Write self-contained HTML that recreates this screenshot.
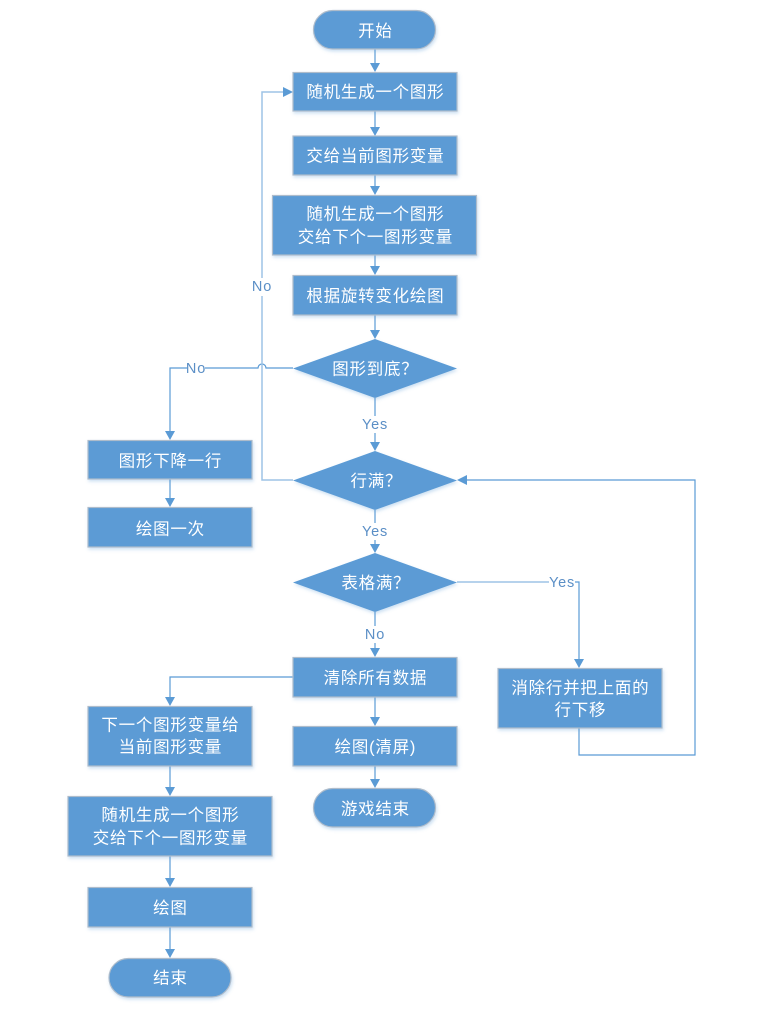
<!DOCTYPE html>
<html><head><meta charset="utf-8">
<style>
html,body{margin:0;padding:0;background:#fff}
svg{display:block}
.n{fill:#5b9bd5;stroke:#aebccb;stroke-width:1.2}
.t{fill:#fff;font-family:"Liberation Sans","Noto Sans CJK SC",sans-serif;font-size:16.5px;letter-spacing:.75px;text-anchor:middle}
.l{fill:#5b8fc6;font-family:"Liberation Sans","Noto Sans CJK SC",sans-serif;font-size:14.500px;text-anchor:middle;letter-spacing:.8px}
.c{fill:none;stroke:#5b9bd5;stroke-width:1.2}
.c2{fill:none;stroke:#9dc3e6;stroke-width:1.5}
.a{fill:#5b9bd5}
</style></head><body>
<svg width="757" height="1021" viewBox="0 0 757 1021" xmlns="http://www.w3.org/2000/svg">
<defs><filter id="s" x="-10%" y="-10%" width="120%" height="130%"><feDropShadow dx="1" dy="2" stdDeviation="1.500" flood-color="#5b9bd5" flood-opacity=".3"/></filter></defs>

<!-- connectors -->
<g class="c">
<path d="M375 49V64M375 111V128M375 175V187M375 255V267M375 315V331"/>
<path d="M375 398V416M375 433V443"/>
<path d="M375 510V523M375 540V545"/>
<path d="M375 612V626M375 643V649"/>
<path d="M375 697V718M375 766V780"/>
<path d="M293 368H266a4 4 0 0 0-8 0H205M187 368H170V432"/>
<path d="M170 479V499M170 766V788M170 856V879M170 927V950"/>
<path d="M293 677H170V698"/>
<path d="M575 582H579V660"/>
<path d="M579 728V755H695V480H466"/>
</g>
<g class="c2">
<path d="M293 480H262V296M262 278V92H284"/>
<path d="M457 582H549"/>
</g>
<g class="a">
<path d="M370 63H380L375 72Z"/>
<path d="M370 127H380L375 136Z"/>
<path d="M370 186H380L375 195Z"/>
<path d="M370 266H380L375 275Z"/>
<path d="M370 330H380L375 339Z"/>
<path d="M370 442H380L375 451Z"/>
<path d="M370 544H380L375 553Z"/>
<path d="M370 648H380L375 657Z"/>
<path d="M370 717H380L375 726Z"/>
<path d="M370 779H380L375 788Z"/>
<path d="M165 431H175L170 440Z"/>
<path d="M165 498H175L170 507Z"/>
<path d="M165 697H175L170 706Z"/>
<path d="M165 787H175L170 796Z"/>
<path d="M165 878H175L170 887Z"/>
<path d="M165 949H175L170 958Z"/>
<path d="M574 659H584L579 668Z"/>
<path d="M283 87V97L293 92Z"/>
<path d="M467 475V485L457 480Z"/>
</g>

<!-- nodes -->
<g filter="url(#s)">
<rect class="n" x="313.500" y="10.500" width="122" height="38.500" rx="19.250"/>
<rect class="n" x="293" y="72.500" width="164" height="38.500"/>
<rect class="n" x="293" y="136" width="164" height="39"/>
<rect class="n" x="272.500" y="195.500" width="204" height="59.500"/>
<rect class="n" x="293" y="275.500" width="164" height="39.500"/>
<path d="M293 368.500L375 339L457 368.500L375 398Z" fill="#5b9bd5"/>
<path d="M293 480.500L375 451L457 480.500L375 510Z" fill="#5b9bd5"/>
<path d="M293 582.500L375 553L457 582.500L375 612Z" fill="#5b9bd5"/>
<rect class="n" x="293" y="657.500" width="164" height="39.500"/>
<rect class="n" x="293" y="726.500" width="164" height="39.500"/>
<rect class="n" x="313.500" y="788.500" width="122" height="38.500" rx="19.250"/>
<rect class="n" x="88" y="440.500" width="164" height="38.500"/>
<rect class="n" x="88" y="507.500" width="164" height="39.500"/>
<rect class="n" x="88" y="706.500" width="164" height="59.500"/>
<rect class="n" x="68" y="796.500" width="204" height="59.500"/>
<rect class="n" x="88" y="887.500" width="164" height="39.500"/>
<rect class="n" x="109" y="958.500" width="122" height="38.500" rx="19.250"/>
<rect class="n" x="498" y="668.500" width="164" height="59.500"/>
</g>

<!-- node text -->
<g class="t" transform="translate(.4,.6)">
<text x="375" y="36">开始</text>
<text x="375" y="97">随机生成一个图形</text>
<text x="375" y="161">交给当前图形变量</text>
<text x="375" y="219">随机生成一个图形</text>
<text x="375" y="242">交给下个一图形变量</text>
<text x="375" y="301">根据旋转变化绘图</text>
<text x="375" y="374">图形到底？</text>
<text x="376" y="486">行满？</text>
<text x="375.500" y="588">表格满？</text>
<text x="375" y="683">清除所有数据</text>
<text x="375" y="752">绘图(清屏)</text>
<text x="375" y="814">游戏结束</text>
<text x="170" y="466">图形下降一行</text>
<text x="170" y="534">绘图一次</text>
<text x="170" y="730">下一个图形变量给</text>
<text x="170" y="752">当前图形变量</text>
<text x="170" y="820">随机生成一个图形</text>
<text x="170" y="843">交给下个一图形变量</text>
<text x="170" y="913">绘图</text>
<text x="170" y="983">结束</text>
<text x="580" y="693">消除行并把上面的</text>
<text x="580" y="715">行下移</text>
</g>

<!-- connector labels -->
<g class="l">
<text x="262" y="291">No</text>
<text x="196" y="373">No</text>
<text x="375" y="429">Yes</text>
<text x="375" y="536">Yes</text>
<text x="562" y="587">Yes</text>
<text x="375" y="639">No</text>
</g>
</svg>
</body></html>
